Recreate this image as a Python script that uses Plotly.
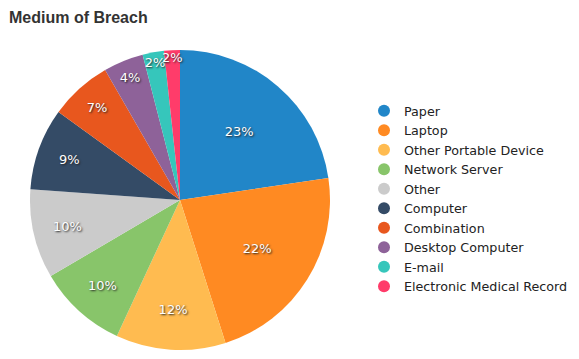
import plotly.graph_objects as go

categories = ["Paper", "Laptop", "Other Portable Device", "Network Server", "Other",
              "Computer", "Combination", "Desktop Computer", "E-mail",
              "Electronic Medical Record"]
values = [226, 224, 118, 96, 96, 88, 67, 43, 23, 17]
colors = ["#2186C8", "#FF8A22", "#FFBB50", "#88C56A", "#CBCBCB",
          "#344B66", "#E8571E", "#8E6299", "#36C6BB", "#FF3C6A"]

W, H = 579, 359
OFF = 8  # page body margin offset
fig = go.Figure()
fig.add_trace(go.Pie(
    labels=categories, values=values, sort=False, direction="clockwise",
    rotation=0,
    marker=dict(colors=colors, line=dict(width=0)),
    textinfo="percent", texttemplate="%{percent:.0%}",
    textposition="inside", insidetextorientation="horizontal",
    textfont=dict(family="DejaVu Sans", size=13, color="white",
                  shadow="1px 1px 2px #222"),
    hoverinfo="label+percent",
    showlegend=False,
    domain=dict(x=[(30 - OFF) / W, (330 - OFF) / W],
                y=[(H - 350 + OFF) / H, (H - 50 + OFF) / H]),
))
for name, c in zip(categories, colors):
    fig.add_trace(go.Scatter(x=[None], y=[None], mode="markers", name=name,
                             marker=dict(symbol="circle", size=13, color=c)))

fig.update_layout(
    width=W, height=H,
    margin=dict(l=0, r=0, t=0, b=0),
    paper_bgcolor="white", plot_bgcolor="white",
    title=dict(text="<b>Medium of Breach</b>", x=1 / W, xanchor="left",
               y=1 - 9 / H, yanchor="middle", xref="container", yref="container",
               font=dict(family="Liberation Sans", size=16, color="#333333")),
    xaxis=dict(visible=False), yaxis=dict(visible=False),
    legend=dict(x=356 / W, xanchor="left", y=(H - 191) / H, yanchor="middle",
                font=dict(family="DejaVu Sans", size=12.7, color="#222222"),
                itemsizing="constant", bgcolor="rgba(0,0,0,0)"),
    uniformtext=dict(minsize=13, mode="show"),
)
fig.write_html("out.html")
